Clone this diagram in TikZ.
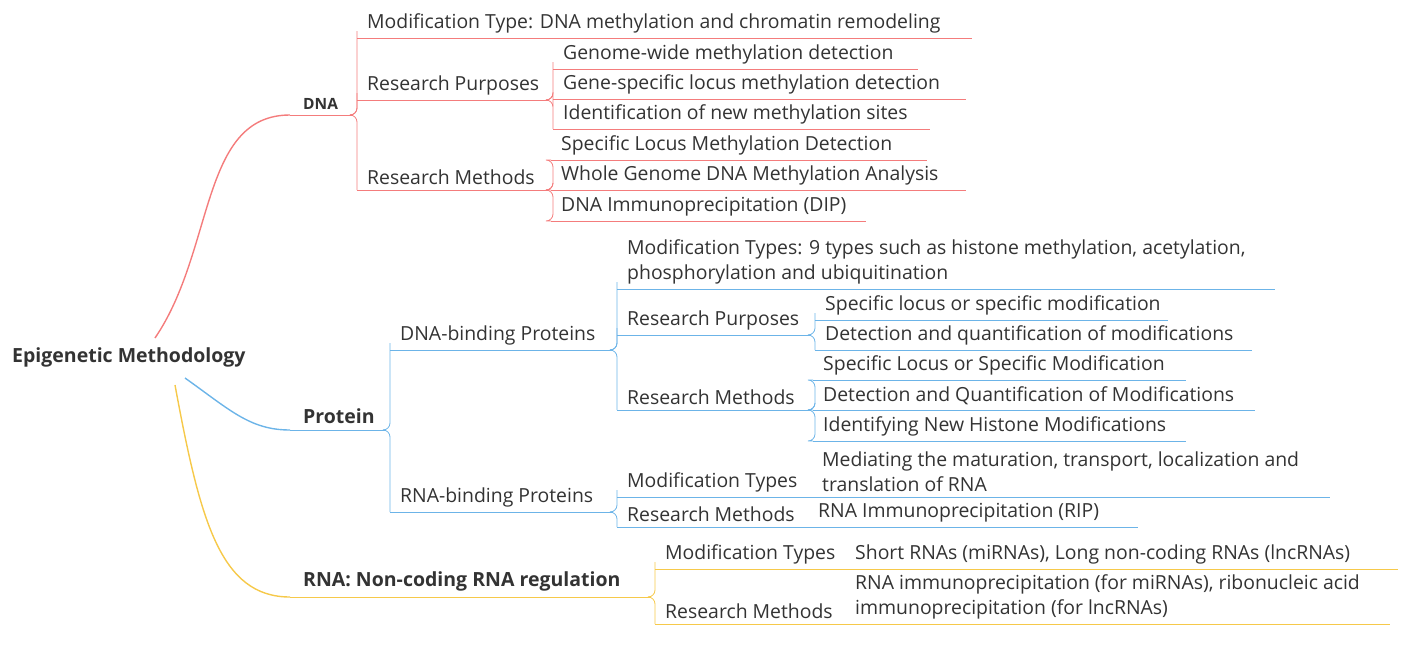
\documentclass[tikz,border=0pt]{standalone}
\usepackage{fontspec}
\setmainfont{Open Sans}
\definecolor{cred}{HTML}{F47C7C}
\definecolor{cblue}{HTML}{6CB4E8}
\definecolor{cyel}{HTML}{F6C94A}
\definecolor{ctxt}{HTML}{333333}
\newcommand\itm[6]{%
  \coordinate (#1-l) at (#2,#4);
  \coordinate (#1-r) at (#3,#4);
  \draw[#5,line width=0.8pt] (#1-l) -- (#1-r);
  \node[txt,anchor=south west] (#1) at ([xshift=10pt,yshift=5pt]#1-l) {#6};}
\newcommand\lnk[3]{\draw[#3,line width=0.8pt,rounded corners=7pt] (#1-r) -- ([xshift=5pt]#1-r) |- (#2-l);}
\begin{document}
\begin{tikzpicture}[x=1pt,y=-1pt,
  txt/.style={inner sep=0pt,text=ctxt,font=\fontsize{19.4}{25}\selectfont,align=left},
  bld/.style={inner sep=0pt,text=ctxt,font=\fontsize{19.5}{22}\selectfont\bfseries}]
\useasboundingbox (0,0) rectangle (1414,645);
% root
\node[bld,anchor=west] (root) at (12,357) {Epigenetic Methodology};
% DNA
\coordinate (dna-l) at (290,115); \coordinate (dna-r) at (352,115);
\draw[cred,line width=0.8pt] (dna-l) -- (dna-r);
\node[bld,font=\fontsize{15.5}{16}\selectfont\bfseries,anchor=south west] (dna) at (303,110) {DNA};
\draw[cred,line width=1.4pt] (155,338) .. controls (215,250) and (200,115) .. (dna-l);
\itm{d1}{357}{972}{38}{cred}{Modification Type: DNA methylation and chromatin remodeling}
\itm{d2}{357}{548}{100}{cred}{Research Purposes}
\itm{d3}{357}{548}{190}{cred}{Research Methods}
\lnk{dna}{d1}{cred}\lnk{dna}{d2}{cred}\lnk{dna}{d3}{cred}
\itm{d21}{553}{918}{69}{cred}{Genome-wide methylation detection}
\itm{d22}{553}{966}{99}{cred}{Gene-specific locus methylation detection}
\itm{d23}{553}{930}{129}{cred}{Identification of new methylation sites}
\lnk{d2}{d21}{cred}\lnk{d2}{d22}{cred}\lnk{d2}{d23}{cred}
\itm{d31}{551}{927}{160}{cred}{Specific Locus Methylation Detection}
\itm{d32}{551}{966}{190}{cred}{Whole Genome DNA Methylation Analysis}
\itm{d33}{551}{866}{221}{cred}{DNA Immunoprecipitation (DIP)}
\lnk{d3}{d31}{cred}\lnk{d3}{d32}{cred}\lnk{d3}{d33}{cred}
% Protein
\coordinate (pro-l) at (290,430); \coordinate (pro-r) at (385,430);
\draw[cblue,line width=0.8pt] (pro-l) -- (pro-r);
\node[bld,anchor=south west] (pro) at (303,424) {Protein};
\draw[cblue,line width=1.4pt] (185,378) .. controls (230,410) and (250,430) .. (pro-l);
\itm{p1}{390}{612}{350}{cblue}{DNA-binding Proteins}
\itm{p2}{390}{612}{512}{cblue}{RNA-binding Proteins}
\lnk{pro}{p1}{cblue}\lnk{pro}{p2}{cblue}
\itm{p11}{617}{1275}{289}{cblue}{Modification Types: 9 types such as histone methylation, acetylation,\\phosphorylation and ubiquitination}
\itm{p12}{617}{810}{335}{cblue}{Research Purposes}
\itm{p13}{617}{810}{410}{cblue}{Research Methods}
\lnk{p1}{p11}{cblue}\lnk{p1}{p12}{cblue}\lnk{p1}{p13}{cblue}
\itm{p121}{815}{1168}{320}{cblue}{Specific locus or specific modification}
\itm{p122}{815}{1252}{350}{cblue}{Detection and quantification of modifications}
\lnk{p12}{p121}{cblue}\lnk{p12}{p122}{cblue}
\itm{p131}{813}{1186}{380}{cblue}{Specific Locus or Specific Modification}
\itm{p132}{813}{1255}{410}{cblue}{Detection and Quantification of Modifications}
\itm{p133}{813}{1186}{441}{cblue}{Identifying New Histone Modifications}
\lnk{p13}{p131}{cblue}\lnk{p13}{p132}{cblue}\lnk{p13}{p133}{cblue}
\itm{p21}{617}{812}{497}{cblue}{Modification Types}
\itm{p22}{617}{808}{527}{cblue}{Research Methods}
\lnk{p2}{p21}{cblue}\lnk{p2}{p22}{cblue}
\itm{p211}{812}{1330}{497}{cblue}{Mediating the maturation, transport, localization and\\translation of RNA}
\itm{p221}{808}{1138}{527}{cblue}{RNA Immunoprecipitation (RIP)}
% RNA
\coordinate (rna-l) at (290,597); \coordinate (rna-r) at (650,597);
\draw[cyel,line width=0.8pt] (rna-l) -- (rna-r);
\node[bld,anchor=south west] (rna) at (303,591) {RNA: Non-coding RNA regulation};
\draw[cyel,line width=1.4pt] (175,385) .. controls (200,520) and (220,597) .. (rna-l);
\itm{r1}{655}{845}{569}{cyel}{Modification Types}
\itm{r2}{655}{845}{624}{cyel}{Research Methods}
\lnk{rna}{r1}{cyel}\lnk{rna}{r2}{cyel}
\itm{r11}{845}{1398}{569}{cyel}{Short RNAs (miRNAs), Long non-coding RNAs (lncRNAs)}
\itm{r21}{845}{1390}{624}{cyel}{RNA immunoprecipitation (for miRNAs), ribonucleic acid\\immunoprecipitation (for lncRNAs)}
\end{tikzpicture}
\end{document}
